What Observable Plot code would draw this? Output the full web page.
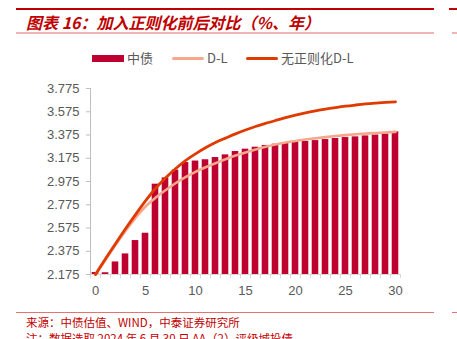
<!DOCTYPE html>
<html>
<head>
<meta charset="utf-8">
<script src="https://cdn.jsdelivr.net/npm/d3@7"></script>
<script src="https://cdn.jsdelivr.net/npm/@observablehq/plot@0.6"></script>
<style>
  html, body { margin: 0; padding: 0; background: #fff; }
  #wrap { position: relative; width: 457px; height: 339px; overflow: hidden; font-family: "Liberation Sans", Arial, "Noto Sans CJK SC", sans-serif; }
  .abs { position: absolute; white-space: nowrap; }
  #chart { position: absolute; left: 0; top: 0; }
</style>
</head>
<body>
<div id="wrap">
  <div id="chart"></div>
  <div class="abs" style="left:16px;top:8px;width:418px;height:2px;background:#C00000;"></div>
  <div class="abs" style="left:449px;top:8px;width:8px;height:2px;background:#C00000;"></div>
  <div class="abs" style="left:26px;top:11px;font-size:16px;font-weight:bold;font-style:italic;color:#C00000;font-family:'Noto Sans CJK SC','Liberation Sans',sans-serif;line-height:22px;">图表 16：加入正则化前后对比（%、年）</div>
  <div class="abs" style="left:16px;top:32px;width:418px;height:1.5px;background:#F2B4B4;"></div>
  <div class="abs" style="left:452px;top:32px;width:5px;height:1.5px;background:#F2B4B4;"></div>
  <div id="legend" class="abs" style="left:0;top:49px;width:457px;height:18px;font-size:13px;color:#595959;font-family:'Noto Sans CJK SC','Liberation Sans',sans-serif;"></div>
  <div class="abs" style="left:16px;top:312px;width:418px;height:1px;background:#E57373;"></div>
  <div class="abs" style="left:452px;top:312px;width:5px;height:1px;background:#E57373;"></div>
  <div class="abs" style="left:26px;top:314px;font-size:11.5px;color:#C00000;font-family:'Noto Sans CJK SC','Liberation Sans',sans-serif;line-height:16px;">来源：中债估值、WIND，中泰证券研究所</div>
  <div class="abs" style="left:26px;top:330px;font-size:11.5px;color:#C00000;font-family:'Noto Sans CJK SC','Liberation Sans',sans-serif;line-height:16px;">注：数据选取 2024 年 6 月 30 日 AA（2）评级城投债。</div>
</div>
<script>
// ---- data ----
const years = d3.range(0, 31);
const chinaBond = [2.192, 2.190, 2.283, 2.352, 2.467, 2.530, 2.952, 3.006, 3.073, 3.138, 3.151, 3.162, 3.181, 3.204, 3.233, 3.253, 3.270, 3.285, 3.296, 3.305, 3.313, 3.319, 3.327, 3.336, 3.345, 3.353, 3.359, 3.367, 3.375, 3.384, 3.402];
const dl = [2.175, 2.300, 2.428, 2.550, 2.662, 2.760, 2.835, 2.900, 2.960, 3.012, 3.058, 3.097, 3.132, 3.167, 3.198, 3.225, 3.250, 3.273, 3.293, 3.310, 3.324, 3.336, 3.347, 3.357, 3.366, 3.374, 3.381, 3.387, 3.392, 3.397, 3.402];
const dlNoReg = [2.175, 2.310, 2.440, 2.568, 2.690, 2.808, 2.915, 3.005, 3.085, 3.155, 3.213, 3.265, 3.310, 3.348, 3.385, 3.418, 3.448, 3.475, 3.500, 3.524, 3.546, 3.566, 3.583, 3.598, 3.611, 3.623, 3.633, 3.642, 3.649, 3.655, 3.660];
const yTicks = [2.175, 2.375, 2.575, 2.775, 2.975, 3.175, 3.375, 3.575, 3.775];
const xTicks = [0, 5, 10, 15, 20, 25, 30];
const seriesNames = ["中债", "D-L", "无正则化D-L"];
const colors = ["#BE0030", "#F7A78C", "#DF3A00"];

const bars = years.map((x, i) => ({x, v: chinaBond[i]}));
const lineA = years.map((x, i) => ({x, v: dl[i]}));
const lineB = years.map((x, i) => ({x, v: dlNoReg[i]}));
const boundaries = years.concat([31]).map(x => x - 0.5);
const yMin = yTicks[0], yMax = yTicks[yTicks.length - 1];

const plot = Plot.plot({
  width: 457,
  height: 339,
  marginLeft: 90,
  marginRight: 57,
  marginTop: 88,
  marginBottom: 65,
  style: {fontFamily: "'Liberation Sans', Arial, sans-serif", fontSize: "13px", color: "#595959", background: "transparent"},
  x: {domain: [-0.5, 30.5]},
  y: {domain: [yMin, yMax]},
  marks: [
    Plot.ruleY([yMin], {stroke: "#D9D9D9", strokeWidth: 1}),
    Plot.ruleX([-0.5], {stroke: "#BFBFBF", strokeWidth: 1}),
    Plot.axisY({ticks: yTicks, tickFormat: d3.format(".3f"), tickSize: 4, tickPadding: 7, stroke: "#BFBFBF", fill: "#595959", label: null}),
    Plot.axisX({ticks: boundaries, tickFormat: () => "", tickSize: 4, stroke: "#D9D9D9", label: null}),
    Plot.axisX({ticks: xTicks, tickSize: 0, tickPadding: 11, fill: "#595959", label: null}),
    Plot.rect(bars, {x1: d => d.x - 0.33, x2: d => d.x + 0.33, y1: yMin, y2: "v", fill: colors[0]}),
    Plot.line(lineA, {x: "x", y: "v", stroke: colors[1], strokeWidth: 2.6, curve: "monotone-x"}),
    Plot.line(lineB, {x: "x", y: "v", stroke: colors[2], strokeWidth: 2.8, curve: "monotone-x"})
  ]
});
document.getElementById("chart").appendChild(plot);

// legend
const legend = document.getElementById("legend");
const items = [
  {name: seriesNames[0], color: colors[0], kind: "rect", left: 92},
  {name: seriesNames[1], color: colors[1], kind: "line", left: 172},
  {name: seriesNames[2], color: colors[2], kind: "line", left: 246}
];
for (const it of items) {
  const sw = document.createElement("div");
  sw.className = "abs";
  sw.style.left = it.left + "px";
  sw.style.width = "32px";
  if (it.kind === "rect") { sw.style.top = "6px"; sw.style.height = "7px"; }
  else { sw.style.top = "8px"; sw.style.height = "3px"; sw.style.borderRadius = "1.5px"; }
  sw.style.background = it.color;
  legend.appendChild(sw);
  const t = document.createElement("div");
  t.className = "abs";
  t.style.left = (it.left + 35) + "px";
  t.style.top = "0px";
  t.style.lineHeight = "18px";
  t.textContent = it.name;
  legend.appendChild(t);
}
</script>
</body>
</html>
